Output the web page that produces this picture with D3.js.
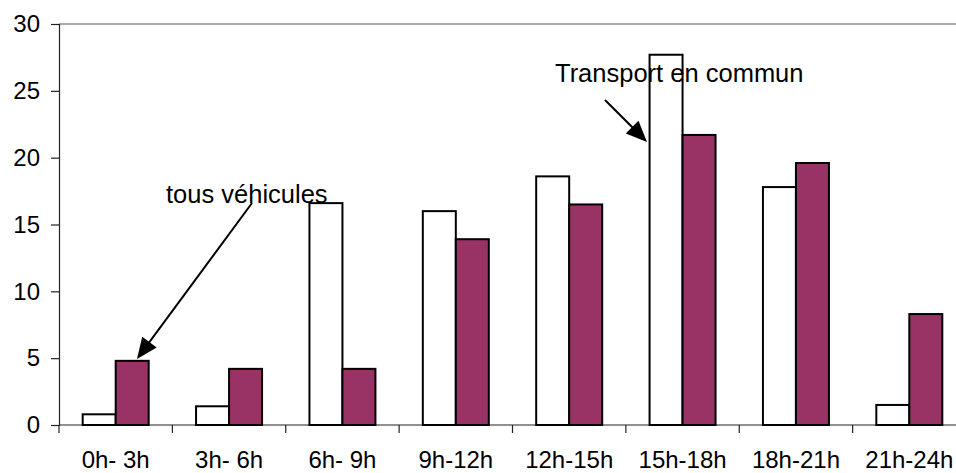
<!DOCTYPE html>
<html>
<head>
<meta charset="utf-8">
<script src="https://cdn.jsdelivr.net/npm/d3@7"></script>
<style>
  html, body { margin: 0; padding: 0; background: #fff; }
  svg { display: block; font-family: Arial, "Liberation Sans", sans-serif; }
</style>
</head>
<body>
<svg id="chart" width="956" height="473"></svg>
<script>
const categories = ["0h- 3h", "3h- 6h", "6h- 9h", "9h-12h", "12h-15h", "15h-18h", "18h-21h", "21h-24h"];
const seriesNames = ["Transport en commun", "tous véhicules"];
const transportEnCommun = [0.8, 1.4, 16.6, 16.0, 18.6, 27.7, 17.8, 1.5];
const tousVehicules = [4.8, 4.2, 4.2, 13.9, 16.5, 21.7, 19.6, 8.3];
const yTicks = [0, 5, 10, 15, 20, 25, 30];

(function () {
const svg = d3.select("#chart");
const pLeft = 59, pRight = 966, pTop = 24, pBottom = 425;

const x0 = d3.scaleBand().domain(categories).range([pLeft, pRight]).paddingInner(0).paddingOuter(0);
const x1 = d3.scaleBand().domain(seriesNames).range([0, x0.bandwidth()]).paddingInner(0).paddingOuter(0.718);
const y = d3.scaleLinear().domain([0, 30]).range([pBottom, pTop]);
const fills = {"Transport en commun": "#ffffff", "tous véhicules": "#993366"};

// top border
svg.append("line").attr("x1", pLeft).attr("x2", 956).attr("y1", y(30)).attr("y2", y(30))
  .attr("stroke", "#8c8c8c").attr("stroke-width", 1.5);

// Y axis
const yAxis = d3.axisLeft(y).tickValues(yTicks).tickSize(8).tickPadding(11).tickFormat(d3.format("d"));
const gy = svg.append("g").attr("transform", `translate(${pLeft},0)`).call(yAxis);
gy.select(".domain").attr("stroke", "#222").attr("stroke-width", 1.2);
gy.selectAll(".tick line").attr("stroke", "#222").attr("stroke-width", 1.2);
gy.selectAll(".tick text").attr("font-size", 24).attr("fill", "#000")
  .attr("font-family", "Arial, 'Liberation Sans', sans-serif");

// X axis
const xAxis = d3.axisBottom(x0).tickSize(0).tickPadding(0);
const gx = svg.append("g").attr("transform", `translate(0,${pBottom})`).call(xAxis);
gx.select(".domain").attr("d", `M${pLeft},0H956`).attr("stroke", "#222").attr("stroke-width", 1.2);
gx.selectAll(".tick text").attr("font-size", 24).attr("fill", "#000")
  .attr("y", 43).attr("dy", null)
  .attr("font-family", "Arial, 'Liberation Sans', sans-serif");
const boundaries = categories.map(c => x0(c));
gx.selectAll(".btick").data(boundaries).enter().append("line")
  .attr("x1", d => d).attr("x2", d => d).attr("y1", 0).attr("y2", 8)
  .attr("stroke", "#222").attr("stroke-width", 1.2);

// bars
const data = categories.map((c, i) => ({cat: c, values: [
  {name: seriesNames[0], v: transportEnCommun[i]},
  {name: seriesNames[1], v: tousVehicules[i]}
]}));
const groups = svg.selectAll(".grp").data(data).enter().append("g")
  .attr("transform", d => `translate(${x0(d.cat)},0)`);
groups.selectAll("rect").data(d => d.values).enter().append("rect")
  .attr("x", d => x1(d.name))
  .attr("y", d => y(d.v))
  .attr("width", x1.bandwidth())
  .attr("height", d => y(0) - y(d.v))
  .attr("fill", d => fills[d.name])
  .attr("stroke", "#000").attr("stroke-width", 2);

// annotation texts
svg.append("text").attr("x", 555).attr("y", 82).attr("font-size", 25.5).attr("fill", "#000")
  .text("Transport en commun");
svg.append("text").attr("x", 166).attr("y", 203).attr("font-size", 25.5).attr("fill", "#000")
  .text("tous véhicules");

// arrows
function arrow(ax, ay, bx2, by2) {
  const dx = bx2 - ax, dy = by2 - ay, len = Math.hypot(dx, dy);
  const ux = dx / len, uy = dy / len, hl = 21, hw = 9;
  const bx = bx2 - ux * hl, by = by2 - uy * hl;
  svg.append("line").attr("x1", ax).attr("y1", ay).attr("x2", bx + ux * 2).attr("y2", by + uy * 2)
    .attr("stroke", "#000").attr("stroke-width", 2);
  svg.append("path")
    .attr("d", `M${bx2},${by2}L${bx - uy * hw},${by + ux * hw}L${bx + uy * hw},${by - ux * hw}Z`)
    .attr("fill", "#000");
}
arrow(252, 203, 137, 359);
arrow(605, 100, 647, 142);
})();
</script>
</body>
</html>
